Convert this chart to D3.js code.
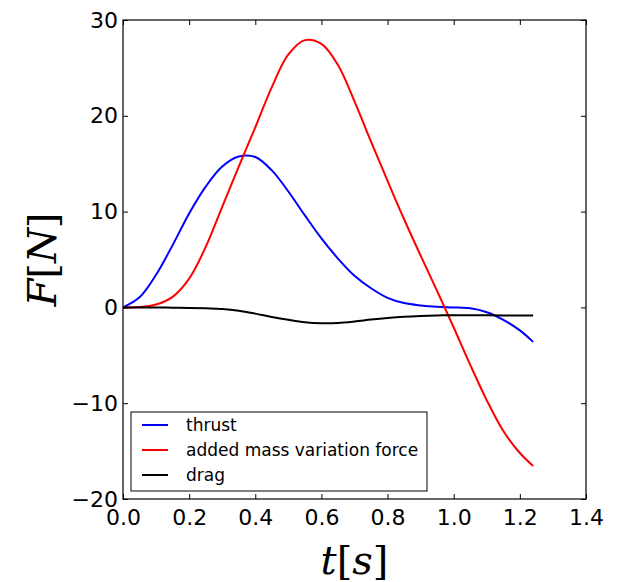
<!DOCTYPE html>
<html>
<head>
<meta charset="utf-8">
<script src="https://cdn.jsdelivr.net/npm/d3@7"></script>
<style>
  body { margin: 0; background: #fff; }
  svg { display: block; }
</style>
</head>
<body>
<div id="chart"></div>
<script>
'use strict';

// time samples [s]
const time = [0, 0.05, 0.1, 0.15, 0.2, 0.25, 0.3, 0.35, 0.4, 0.45, 0.5, 0.55, 0.6,
              0.65, 0.7, 0.75, 0.8, 0.85, 0.9, 0.95, 1.0, 1.05, 1.1, 1.15, 1.2, 1.24];

// forces [N]
const thrust = [0, 1.05, 3.4, 6.5, 9.8, 12.6, 14.7, 15.75, 15.7, 14.3, 12.1, 9.6, 7.2,
                5.1, 3.3, 2.0, 1.0, 0.45, 0.2, 0.06, 0.0, -0.1, -0.5, -1.3, -2.4, -3.6];
const addedMass = [0, 0.03, 0.3, 1.1, 3.0, 6.3, 10.5, 14.7, 18.8, 23.0, 26.4, 27.9, 27.5,
                   25.3, 21.5, 17.3, 13.2, 9.2, 5.4, 1.7, -2.1, -6.0, -9.7, -12.9, -15.2, -16.55];
const drag = [0, 0, -0.01, -0.03, -0.05, -0.1, -0.17, -0.35, -0.65, -1.0, -1.3, -1.55, -1.65,
              -1.62, -1.47, -1.27, -1.1, -0.97, -0.89, -0.84, -0.82, -0.82, -0.83, -0.84, -0.84, -0.84];

const seriesNames = ['thrust', 'added mass variation force', 'drag'];
const seriesColors = ['#0000ff', '#ff0000', '#000000'];
const xTicks = [0.0, 0.2, 0.4, 0.6, 0.8, 1.0, 1.2, 1.4];
const yTicks = [-20, -10, 0, 10, 20, 30];

let width = 617,
    height = 582,
    margin = { left: 123, right: 31, top: 20, bottom: 83 };

let svg = d3.select('#chart').append('svg')
    .attr('width', width)
    .attr('height', height);

let x = d3.scaleLinear().domain([0, 1.4]).range([margin.left, width - margin.right]);
let y = d3.scaleLinear().domain([-20, 30]).range([height - margin.bottom, margin.top]);

let allSeries = [thrust, addedMass, drag];

/*
* curves
 */
let line = d3.line()
    .x(function(d, i) { return x(time[i]); })
    .y(function(d) { return y(d); })
    .curve(d3.curveCatmullRom.alpha(0.5));

svg.append('g')
    .selectAll('path')
    .data(allSeries)
    .enter()
    .append('path')
    .attr('d', function(d) { return line(d); })
    .style('fill', 'none')
    .style('stroke', function(d, i) { return seriesColors[i]; })
    .style('stroke-width', 2);

/*
* axes: ticks inside on every side, classic style
 */
let tickLen = 5;
let tickFont = "'DejaVu Sans', sans-serif";

let bottomAxis = d3.axisBottom(x).tickValues(xTicks).tickSizeInner(-tickLen).tickSizeOuter(0)
    .tickPadding(10).tickFormat(d3.format('.1f'));
let topAxis = d3.axisTop(x).tickValues(xTicks).tickSizeInner(-tickLen).tickSizeOuter(0).tickFormat('');
let leftAxis = d3.axisLeft(y).tickValues(yTicks).tickSizeInner(-tickLen).tickSizeOuter(0)
    .tickPadding(5).tickFormat(function(d) { return d < 0 ? '\u2212' + Math.abs(d) : d; });
let rightAxis = d3.axisRight(y).tickValues(yTicks).tickSizeInner(-tickLen).tickSizeOuter(0).tickFormat('');

let axes = [
    svg.append('g').attr('transform', 'translate(0,' + y(-20) + ')').call(bottomAxis),
    svg.append('g').attr('transform', 'translate(0,' + y(30) + ')').call(topAxis),
    svg.append('g').attr('transform', 'translate(' + x(0) + ',0)').call(leftAxis),
    svg.append('g').attr('transform', 'translate(' + x(1.4) + ',0)').call(rightAxis)
];

axes.forEach(function(a) {
    a.select('.domain').remove();
    a.selectAll('line').style('stroke', '#000').style('stroke-width', 1);
    a.selectAll('text')
        .style('font-family', tickFont)
        .style('font-size', '22px')
        .style('fill', '#000');
});

// frame
svg.append('rect')
    .attr('x', x(0)).attr('y', y(30))
    .attr('width', x(1.4) - x(0)).attr('height', y(-20) - y(30))
    .style('fill', 'none')
    .style('stroke', '#000')
    .style('stroke-width', 1.2);

/*
* axis labels (math style)
 */
let mathFont = "'DejaVu Serif', 'Liberation Serif', serif";

let xLabel = svg.append('text')
    .attr('x', (x(0) + x(1.4)) / 2)
    .attr('y', 574)
    .attr('text-anchor', 'middle')
    .style('font-family', mathFont)
    .style('font-size', '40px');
xLabel.append('tspan').style('font-style', 'italic').text('t');
xLabel.append('tspan').text('[');
xLabel.append('tspan').style('font-style', 'italic').text('s');
xLabel.append('tspan').text(']');

let yLabel = svg.append('text')
    .attr('transform', 'translate(56,' + ((y(30) + y(-20)) / 2) + ') rotate(-90)')
    .attr('text-anchor', 'middle')
    .style('font-family', mathFont)
    .style('font-size', '40px');
yLabel.append('tspan').style('font-style', 'italic').text('F');
yLabel.append('tspan').text('[');
yLabel.append('tspan').style('font-style', 'italic').text('N');
yLabel.append('tspan').text(']');

/*
* legend
 */
let legend = svg.append('g').attr('transform', 'translate(131,412)');

legend.append('rect')
    .attr('width', 296).attr('height', 79)
    .style('fill', '#fff')
    .style('stroke', '#000')
    .style('stroke-width', 1);

let items = legend.selectAll('.item')
    .data(seriesNames)
    .enter()
    .append('g')
    .attr('class', 'item')
    .attr('transform', function(d, i) { return 'translate(0,' + (13 + i * 25) + ')'; });

items.append('line')
    .attr('x1', 11).attr('x2', 37)
    .attr('y1', 0).attr('y2', 0)
    .style('stroke', function(d, i) { return seriesColors[i]; })
    .style('stroke-width', 2);

items.append('text')
    .attr('x', 55)
    .attr('y', 0)
    .attr('dy', '0.35em')
    .style('font-family', tickFont)
    .style('font-size', '17px')
    .style('fill', '#000')
    .text(function(d) { return d; });
</script>
</body>
</html>
